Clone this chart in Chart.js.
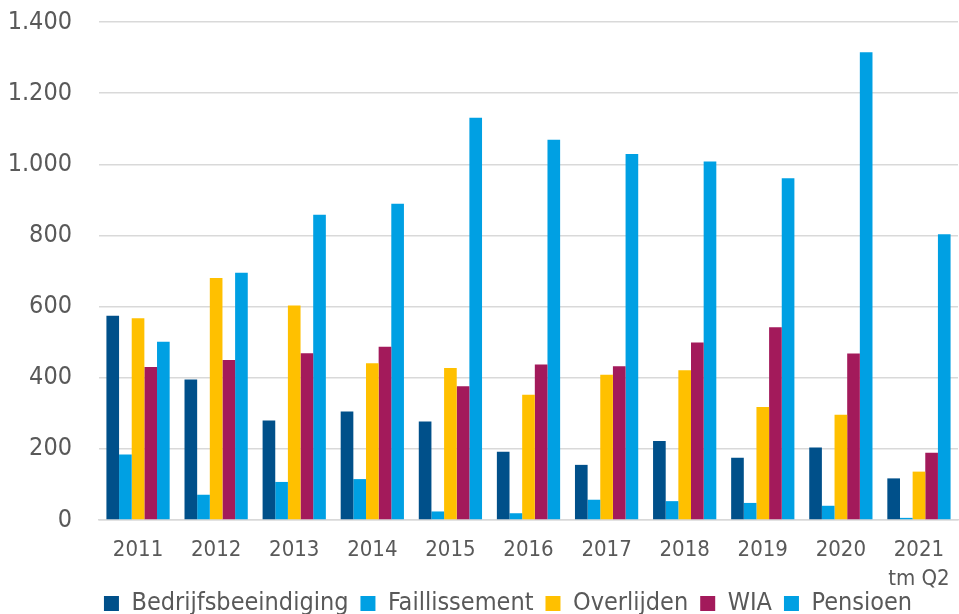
<!DOCTYPE html>
<html>
<head>
<meta charset="utf-8">
<script src="https://cdn.jsdelivr.net/npm/chart.js@4/dist/chart.umd.min.js"></script>
<style>
    html, body { margin: 0; padding: 0; background: #ffffff; }
    #contenedor { width: 959px; height: 614px; }
</style>
</head>
<body>
<div id="contenedor"><canvas id="grafico"></canvas></div>
<script>
// Datos
const jaren = ['2011', '2012', '2013', '2014', '2015', '2016', '2017', '2018', '2019', '2020', ['2021', 'tm Q2']];
const bedrijfsbeeindiging = [574, 395, 280, 305, 277, 192, 155, 222, 175, 204, 117];
const faillissement = [184, 71, 107, 115, 24, 19, 57, 53, 48, 40, 6];
const overlijden = [567, 680, 603, 441, 427, 352, 408, 421, 318, 296, 136];
const wia = [430, 450, 469, 487, 376, 437, 432, 499, 542, 468, 189];
const pensioen = [501, 695, 858, 889, 1131, 1069, 1029, 1008, 961, 1315, 803];
const yTicks = [0, 200, 400, 600, 800, 1000, 1200, 1400];

const FUENTE = "'DejaVu Sans Condensed', 'Lato', sans-serif";
const GRIS_TEXTO = '#595959';
const GRIS_REJILLA = '#d9d9d9';

// Mueve la leyenda: algo a la derecha y más pegada a las etiquetas del eje x
const ajusteLeyenda = {
    id: 'ajusteLeyenda',
    afterLayout(chart) {
        const leyenda = chart.legend;
        leyenda.left += 29;
        leyenda.right += 29;
        leyenda.top -= 16;
        leyenda.bottom -= 16;
    }
};

class Grafico {
    constructor(canvasID) {
        this.canvas = document.getElementById(canvasID);
    }

    #serie(nombre, datos, color) {
        return {
            label: nombre,
            data: datos,
            backgroundColor: color,
            borderWidth: 0,
            categoryPercentage: 0.81,
            barPercentage: 1.0
        };
    }

    #formatear(valor) {
        // separador de miles con punto
        return String(valor).replace(/\B(?=(\d{3})+(?!\d))/g, '.');
    }

    dibujar() {
        const datasets = [
            this.#serie('Bedrijfsbeeindiging', bedrijfsbeeindiging, '#00508a'),
            this.#serie('Faillissement', faillissement, '#00a0e3'),
            this.#serie('Overlijden', overlijden, '#ffc000'),
            this.#serie('WIA', wia, '#a31a5b'),
            this.#serie('Pensioen', pensioen, '#00a0e3')
        ];

        return new Chart(this.canvas, {
            type: 'bar',
            data: { labels: jaren, datasets: datasets },
            plugins: [ajusteLeyenda],
            options: {
                responsive: true,
                maintainAspectRatio: false,
                animation: false,
                layout: { padding: { top: 22, right: 1, bottom: -28, left: 0 } },
                plugins: {
                    tooltip: { enabled: false },
                    legend: {
                        position: 'bottom',
                        labels: {
                            color: GRIS_TEXTO,
                            font: { family: FUENTE, size: 25 },
                            boxWidth: 15,
                            boxHeight: 15,
                            padding: 12
                        }
                    }
                },
                scales: {
                    x: {
                        grid: { display: false },
                        border: { color: GRIS_REJILLA, width: 1.5 },
                        afterFit: eje => {
                            // alto suficiente para las dos líneas de "2021 tm Q2"
                            eje.height = 75;
                            eje.paddingLeft = 0;
                            eje.paddingRight = 0;
                        },
                        ticks: {
                            color: GRIS_TEXTO,
                            font: { family: FUENTE, size: 22, lineHeight: 1.35 },
                            padding: 7,
                            maxRotation: 0,
                            autoSkip: false
                        }
                    },
                    y: {
                        min: 0,
                        max: 1400,
                        afterBuildTicks: eje => { eje.ticks = yTicks.map(v => ({ value: v })); },
                        afterFit: eje => {
                            // el padding de los ticks no debe empujar el área hacia abajo
                            eje.width = 99;
                            eje.paddingTop = 0;
                            eje.paddingBottom = 0;
                        },
                        grid: { color: GRIS_REJILLA, lineWidth: 1.5, drawTicks: false },
                        border: { display: false },
                        ticks: {
                            color: GRIS_TEXTO,
                            font: { family: FUENTE, size: 25 },
                            padding: 27,
                            callback: v => this.#formatear(v)
                        }
                    }
                }
            }
        });
    }
}

new Grafico('grafico').dibujar();
</script>
</body>
</html>
